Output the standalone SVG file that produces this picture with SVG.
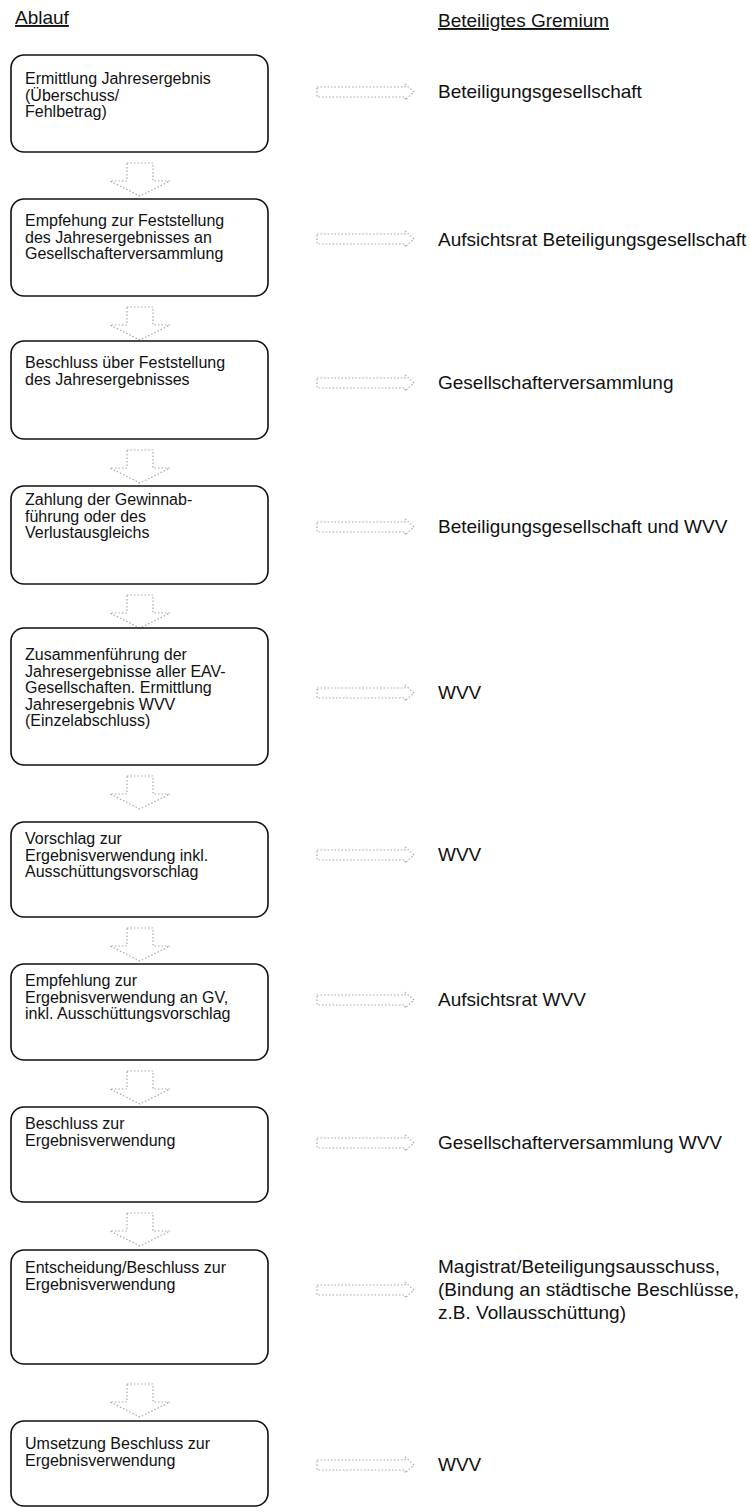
<svg xmlns="http://www.w3.org/2000/svg" width="750" height="1512" viewBox="0 0 750 1512">
<defs>
<style>
.bx{fill:#fff;stroke:#111;stroke-width:1.6}
.t{font-family:"Liberation Sans",Arial,sans-serif;font-size:16px;fill:#111}
.r{font-family:"Liberation Sans",Arial,sans-serif;font-size:19px;fill:#111}
.h{font-family:"Liberation Sans",Arial,sans-serif;font-size:19px;fill:#111;text-decoration:underline}
.ar{fill:none;stroke:#a8a8a8;stroke-width:1.2;stroke-dasharray:1.5 2}
</style>
<path id="va" d="M-13,0 H13 V18 H30 L0,33 L-30,18 H-13 Z"/>
<path id="ha" d="M317,-5 H405 V-8 L414,0 L405,8 V5 H317 Z"/>
</defs>
<rect width="750" height="1512" fill="#fff"/>
<g id="headers">
<text class="h" x="15" y="24">Ablauf</text>
<text class="h" x="438" y="27">Beteiligtes Gremium</text>
</g>
<g id="connectors">
<use href="#va" class="ar" x="140" y="163"/>
<use href="#va" class="ar" x="140" y="307"/>
<use href="#va" class="ar" x="140" y="450"/>
<use href="#va" class="ar" x="140" y="595"/>
<use href="#va" class="ar" x="140" y="776"/>
<use href="#va" class="ar" x="140" y="928"/>
<use href="#va" class="ar" x="140" y="1071"/>
<use href="#va" class="ar" x="140" y="1213"/>
<use href="#va" class="ar" x="140" y="1384"/>
<use href="#ha" class="ar" y="92"/>
<use href="#ha" class="ar" y="239"/>
<use href="#ha" class="ar" y="383"/>
<use href="#ha" class="ar" y="527"/>
<use href="#ha" class="ar" y="693"/>
<use href="#ha" class="ar" y="855"/>
<use href="#ha" class="ar" y="1000"/>
<use href="#ha" class="ar" y="1143"/>
<use href="#ha" class="ar" y="1290"/>
<use href="#ha" class="ar" y="1465"/>
</g>
<g id="n1">
<rect class="bx" x="11" y="55" width="257" height="97" rx="13"/>
<text class="t" x="25" y="84">Ermittlung Jahresergebnis</text>
<text class="t" x="25" y="100.5">(Überschuss/</text>
<text class="t" x="25" y="117">Fehlbetrag)</text>
</g>
<g id="n2">
<rect class="bx" x="11" y="199" width="257" height="97" rx="13"/>
<text class="t" x="25" y="226">Empfehung zur Feststellung</text>
<text class="t" x="25" y="242.5">des Jahresergebnisses an</text>
<text class="t" x="25" y="259">Gesellschafterversammlung</text>
</g>
<g id="n3">
<rect class="bx" x="11" y="341" width="257" height="98" rx="13"/>
<text class="t" x="25" y="368">Beschluss über Feststellung</text>
<text class="t" x="25" y="384.5">des Jahresergebnisses</text>
</g>
<g id="n4">
<rect class="bx" x="11" y="486" width="257" height="98" rx="13"/>
<text class="t" x="25" y="505">Zahlung der Gewinnab-</text>
<text class="t" x="25" y="521.5">führung oder des</text>
<text class="t" x="25" y="538">Verlustausgleichs</text>
</g>
<g id="n5">
<rect class="bx" x="11" y="628" width="257" height="137" rx="13"/>
<text class="t" x="25" y="660">Zusammenführung der</text>
<text class="t" x="25" y="676.5">Jahresergebnisse aller EAV-</text>
<text class="t" x="25" y="693">Gesellschaften. Ermittlung</text>
<text class="t" x="25" y="709.5">Jahresergebnis WVV</text>
<text class="t" x="25" y="726">(Einzelabschluss)</text>
</g>
<g id="n6">
<rect class="bx" x="11" y="822" width="257" height="95" rx="13"/>
<text class="t" x="25" y="844">Vorschlag zur</text>
<text class="t" x="25" y="860.5">Ergebnisverwendung inkl.</text>
<text class="t" x="25" y="877">Ausschüttungsvorschlag</text>
</g>
<g id="n7">
<rect class="bx" x="11" y="964" width="257" height="96" rx="13"/>
<text class="t" x="25" y="986">Empfehlung zur</text>
<text class="t" x="25" y="1002.5">Ergebnisverwendung an GV,</text>
<text class="t" x="25" y="1019">inkl. Ausschüttungsvorschlag</text>
</g>
<g id="n8">
<rect class="bx" x="11" y="1107" width="257" height="95" rx="13"/>
<text class="t" x="25" y="1129">Beschluss zur</text>
<text class="t" x="25" y="1145.5">Ergebnisverwendung</text>
</g>
<g id="n9">
<rect class="bx" x="11" y="1250" width="257" height="114" rx="13"/>
<text class="t" x="25" y="1273">Entscheidung/Beschluss zur</text>
<text class="t" x="25" y="1289.5">Ergebnisverwendung</text>
</g>
<g id="n10">
<rect class="bx" x="11" y="1421" width="257" height="85" rx="13"/>
<text class="t" x="25" y="1449">Umsetzung Beschluss zur</text>
<text class="t" x="25" y="1465.5">Ergebnisverwendung</text>
</g>
<g id="labels">
<text class="r" x="438" y="98">Beteiligungsgesellschaft</text>
<text class="r" x="438" y="246">Aufsichtsrat Beteiligungsgesellschaft</text>
<text class="r" x="438" y="389">Gesellschafterversammlung</text>
<text class="r" x="438" y="533">Beteiligungsgesellschaft und WVV</text>
<text class="r" x="438" y="699">WVV</text>
<text class="r" x="438" y="861">WVV</text>
<text class="r" x="438" y="1006">Aufsichtsrat WVV</text>
<text class="r" x="438" y="1149">Gesellschafterversammlung WVV</text>
<text class="r" x="438" y="1273">Magistrat/Beteiligungsausschuss,</text>
<text class="r" x="438" y="1296">(Bindung an städtische Beschlüsse,</text>
<text class="r" x="438" y="1319">z.B. Vollausschüttung)</text>
<text class="r" x="438" y="1471">WVV</text>
</g>
</svg>
